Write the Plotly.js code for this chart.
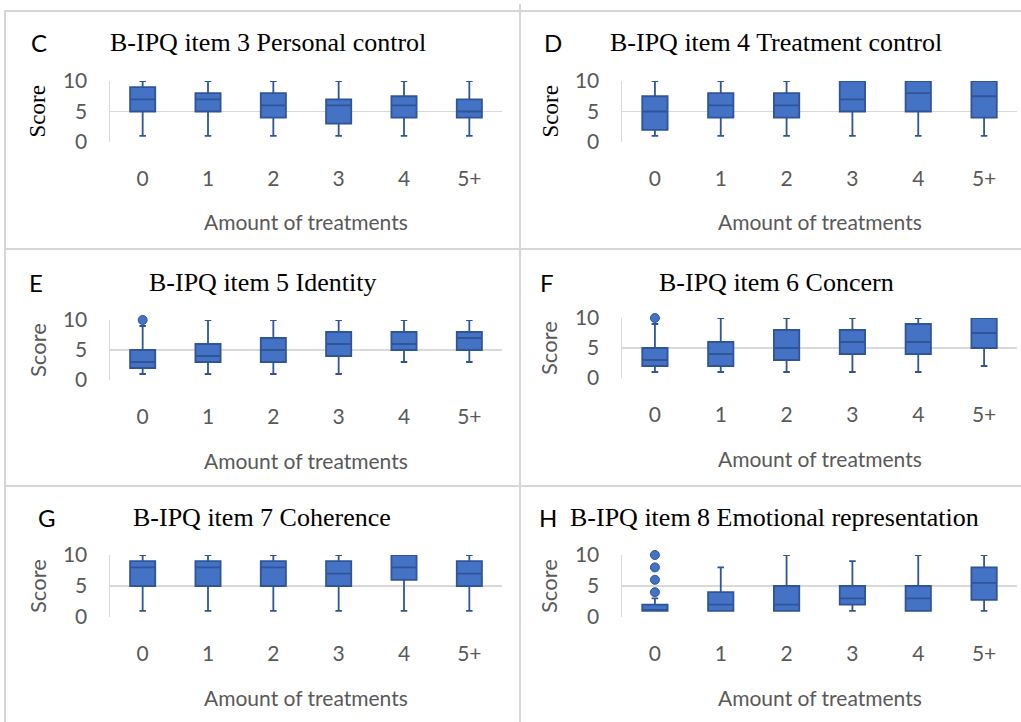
<!DOCTYPE html>
<html>
<head>
<meta charset="utf-8">
<script src="https://cdn.plot.ly/plotly-3.0.1.min.js"></script>
<style>
  html, body { margin: 0; padding: 0; background: #ffffff; }
  #chart { width: 1021px; height: 722px; }
</style>
</head>
<body>
<div id="chart"></div>
<script>
// ---------------- DATA ----------------
const categories = ['0', '1', '2', '3', '4', '5+'];

const panelLetters = ['C', 'D', 'E', 'F', 'G', 'H'];
const panelTitles = [
  'B-IPQ item 3 Personal control',
  'B-IPQ item 4 Treatment control',
  'B-IPQ item 5 Identity',
  'B-IPQ item 6 Concern',
  'B-IPQ item 7 Coherence',
  'B-IPQ item 8 Emotional representation'
];
const yTickVals = [0, 5, 10];
const yTickText = ['0', '5', '10'];
const xAxisLabel = 'Amount of treatments';
const yAxisLabel = 'Score';

// item 3 Personal control
const item3Lower = [1, 1, 1, 1, 1, 1];
const item3Q1 = [5, 5, 4, 3, 4, 4];
const item3Median = [7, 7, 6, 6, 6, 5];
const item3Q3 = [9, 8, 8, 7, 7.5, 7];
const item3Upper = [10, 10, 10, 10, 10, 10];
const item3OutX = [];
const item3OutY = [];

// item 4 Treatment control
const item4Lower = [1, 1, 1, 1, 1, 1];
const item4Q1 = [2, 4, 4, 5, 5, 4];
const item4Median = [5, 6, 6, 7, 8, 7.5];
const item4Q3 = [7.5, 8, 8, 10, 10, 10];
const item4Upper = [10, 10, 10, 10, 10, 10];
const item4OutX = [];
const item4OutY = [];

// item 5 Identity
const item5Lower = [1, 1, 1, 1, 3, 3];
const item5Q1 = [2, 3, 3, 4, 5, 5];
const item5Median = [3, 4, 5, 6, 6, 7];
const item5Q3 = [5, 6, 7, 8, 8, 8];
const item5Upper = [9, 10, 10, 10, 10, 10];
const item5OutX = ['0'];
const item5OutY = [10];

// item 6 Concern
const item6Lower = [1, 1, 1, 1, 1, 2];
const item6Q1 = [2, 2, 3, 4, 4, 5];
const item6Median = [3, 4, 5, 6, 6, 7.5];
const item6Q3 = [5, 6, 8, 8, 9, 10];
const item6Upper = [9, 10, 10, 10, 10, 10];
const item6OutX = ['0'];
const item6OutY = [10];

// item 7 Coherence
const item7Lower = [1, 1, 1, 1, 1, 1];
const item7Q1 = [5, 5, 5, 5, 6, 5];
const item7Median = [8, 8, 8, 7, 8, 7];
const item7Q3 = [9, 9, 9, 9, 10, 9];
const item7Upper = [10, 10, 10, 10, 10, 10];
const item7OutX = [];
const item7OutY = [];

// item 8 Emotional representation
const item8Lower = [1, 1, 1, 1, 1, 1];
const item8Q1 = [1, 1, 1, 2, 1, 2.75];
const item8Median = [1, 2, 2, 3, 3, 5.5];
const item8Q3 = [2, 4, 5, 5, 5, 8];
const item8Upper = [3, 8, 10, 9, 10, 10];
const item8OutX = ['0', '0', '0', '0'];
const item8OutY = [4, 6, 8, 10];

const panelData = [
  [item3Lower, item3Q1, item3Median, item3Q3, item3Upper, item3OutX, item3OutY],
  [item4Lower, item4Q1, item4Median, item4Q3, item4Upper, item4OutX, item4OutY],
  [item5Lower, item5Q1, item5Median, item5Q3, item5Upper, item5OutX, item5OutY],
  [item6Lower, item6Q1, item6Median, item6Q3, item6Upper, item6OutX, item6OutY],
  [item7Lower, item7Q1, item7Median, item7Q3, item7Upper, item7OutX, item7OutY],
  [item8Lower, item8Q1, item8Median, item8Q3, item8Upper, item8OutX, item8OutY]
];

// ---------------- LAYOUT GEOMETRY (pixels) ----------------
const W = 1021, H = 722;
const px = x => x / W;
const py = y => 1 - y / H;

// plot-area pixel boxes: [left, right, yTop(10), yBottom(0)]
const boxes = [
  [110, 502, 81, 142],
  [622, 1017, 81, 142],
  [110, 502, 320, 380],
  [622, 1017, 318, 378],
  [110, 502, 555, 617],
  [622, 1017, 555, 617]
];
const titleX = [268, 776, 262, 776, 262, 774];
const titleY = [43, 43, 282, 282, 517, 517];
const letterX = [39, 553, 36, 547, 47, 548];
const scoreX = [37, 550, 37, 548, 37, 548];
const scoreSerif = [true, true, false, false, false, false];

const FILL = '#4472C4';
const EDGE = '#2F5597';
const GRID = '#d9d9d9';
const SANS = 'Lato, "Liberation Sans", sans-serif';
const SERIF = '"Liberation Serif", "DejaVu Serif", serif';

const traces = [];
const layout = {
  width: W, height: H,
  margin: {l: 0, r: 0, t: 0, b: 0},
  paper_bgcolor: '#ffffff',
  plot_bgcolor: 'rgba(0,0,0,0)',
  showlegend: false,
  boxgap: 0.45,
  annotations: [],
  shapes: []
};

for (let i = 0; i < 6; i++) {
  const n = i + 1;
  const xa = 'x' + (n === 1 ? '' : n);
  const ya = 'y' + (n === 1 ? '' : n);
  const [lo, q1, med, q3, up, ox, oy] = panelData[i];
  traces.push({
    type: 'box',
    x: categories,
    lowerfence: lo, q1: q1, median: med, q3: q3, upperfence: up,
    xaxis: xa, yaxis: ya,
    fillcolor: FILL,
    line: {color: EDGE, width: 1.8},
    whiskerwidth: 0.26,
    boxpoints: false,
    hoverinfo: 'skip'
  });
  if (ox.length) {
    traces.push({
      type: 'scatter', mode: 'markers',
      x: ox, y: oy, xaxis: xa, yaxis: ya,
      marker: {color: FILL, size: 9, line: {color: EDGE, width: 1}},
      cliponaxis: false,
      hoverinfo: 'skip'
    });
  }
  const [l, r, t, b] = boxes[i];
  layout['xaxis' + (n === 1 ? '' : n)] = {
    domain: [px(l), px(r)],
    anchor: ya,
    type: 'category',
    categoryorder: 'array', categoryarray: categories,
    range: [-0.5, 5.5],
    showgrid: false, zeroline: false, showline: false,
    ticks: '',
    ticklabelstandoff: 22,
    tickfont: {family: SANS, size: 21, color: '#595959'},
    fixedrange: true
  };
  layout['yaxis' + (n === 1 ? '' : n)] = {
    domain: [py(b), py(t)],
    anchor: xa,
    range: [0, 10],
    tickvals: yTickVals, ticktext: yTickText,
    showgrid: true, gridcolor: GRID, gridwidth: 1.5,
    zeroline: false,
    showline: true, linecolor: GRID, linewidth: 1.5,
    ticks: '',
    ticklabelstandoff: 17,
    tickfont: {family: SANS, size: 21, color: '#595959'},
    fixedrange: true
  };
  layout.annotations.push({
    xref: 'paper', yref: 'paper', x: px(titleX[i]), y: py(titleY[i]),
    text: panelTitles[i], showarrow: false, xanchor: 'center', yanchor: 'middle',
    font: {family: SERIF, size: 26, color: '#000000'}
  });
  layout.annotations.push({
    xref: 'paper', yref: 'paper', x: px(letterX[i]), y: py(titleY[i]),
    text: panelLetters[i], showarrow: false, xanchor: 'center', yanchor: 'middle',
    font: {family: SANS, size: 24, color: '#000000'}
  });
  layout.annotations.push({
    xref: 'paper', yref: 'paper', x: px((l + r) / 2), y: py(b + 80),
    text: xAxisLabel, showarrow: false, xanchor: 'center', yanchor: 'middle',
    font: {family: SANS, size: 21, color: '#595959'}
  });
  layout.annotations.push({
    xref: 'paper', yref: 'paper', x: px(scoreX[i]), y: py((t + b) / 2),
    text: yAxisLabel, showarrow: false, xanchor: 'center', yanchor: 'middle',
    textangle: -90,
    font: scoreSerif[i] ? {family: SERIF, size: 23, color: '#000000'}
                        : {family: SANS, size: 22, color: '#595959'}
  });
}

// panel frame lines
const frame = [
  [4, 11, 1021, 11],
  [4, 249, 1021, 249],
  [4, 486, 1021, 486],
  [5, 11, 5, 722],
  [520, 4, 520, 722]
];
frame.forEach(([x0, y0, x1, y1]) => {
  layout.shapes.push({
    type: 'line', xref: 'paper', yref: 'paper',
    x0: px(x0), y0: py(y0), x1: px(x1), y1: py(y1),
    line: {color: '#d6d6d6', width: 2}, layer: 'below'
  });
});

Plotly.newPlot('chart', traces, layout, {displayModeBar: false, staticPlot: true});
</script>
</body>
</html>
